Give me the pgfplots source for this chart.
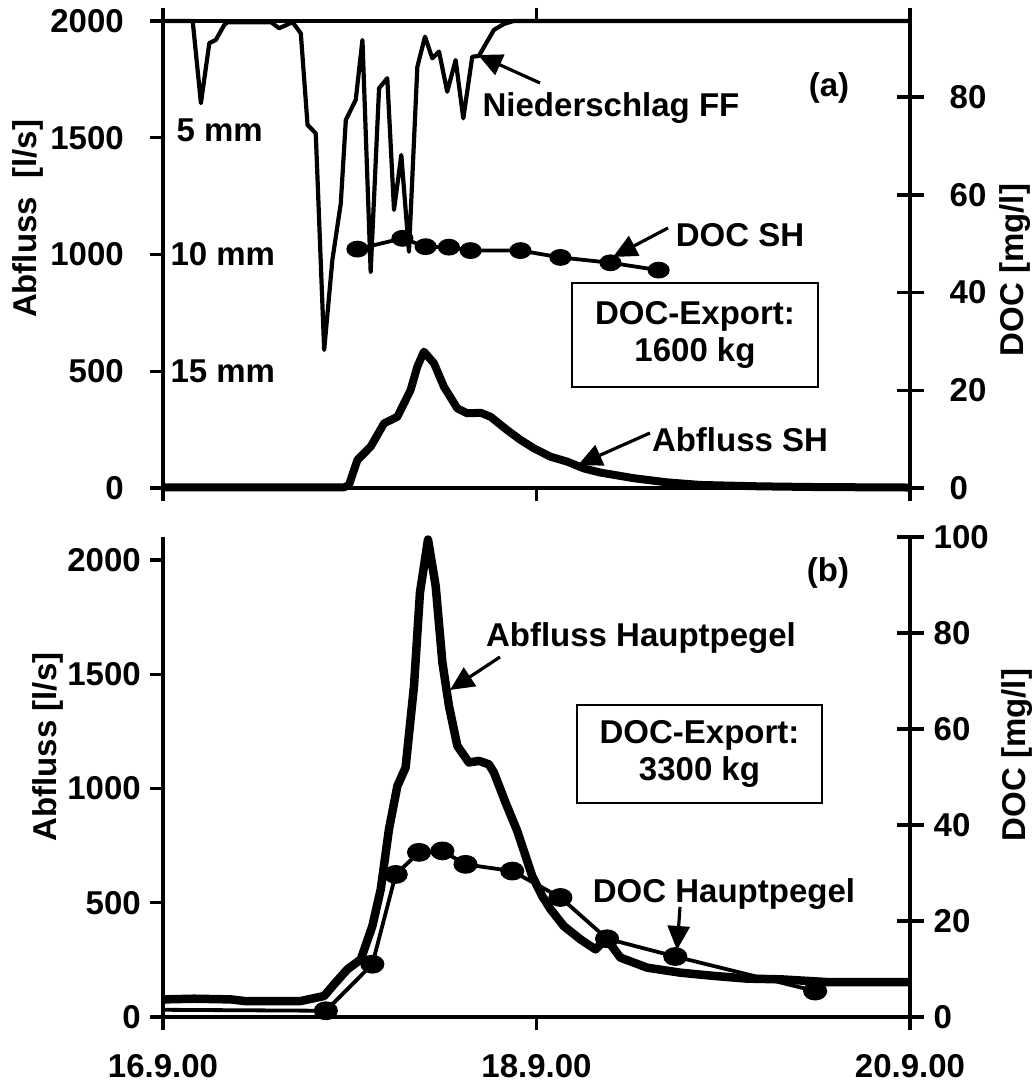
\documentclass[border=0pt]{standalone}
\usepackage{fontspec}
\setmainfont{Liberation Sans}
\usepackage{pgfplots}
\pgfplotsset{compat=1.18}
\usetikzlibrary{arrows.meta}
\newcommand\F{\fontsize{33}{37}\selectfont\bfseries}

\pgfplotstableread{
x y
0 2000
0.159 2000
0.203 1648
0.248 1905
0.283 1919
0.328 1983
0.346 1995
0.578 1995
0.622 1969
0.694 1995
0.738 1947
0.774 1555
0.818 1519
0.863 591
0.907 977
0.952 1219
0.979 1576
1.032 1662
1.068 1919
1.112 926
1.157 1712
1.201 1755
1.237 1191
1.276 1426
1.317 1012
1.362 1804
1.403 1933
1.442 1840
1.478 1869
1.522 1697
1.567 1833
1.608 1583
1.656 1847
1.691 1850
1.772 1962
1.825 1987
1.877 2000
4 2000
}\niederschlag

\pgfplotstableread{
x y
0 3
0.97 3
0.996 13
1.041 120
1.112 177
1.184 277
1.255 305
1.326 420
1.362 520
1.397 584
1.451 534
1.504 434
1.576 341
1.629 320
1.701 322
1.754 305
1.843 248
1.914 206
1.986 170
2.075 134
2.164 113
2.253 84
2.342 66
2.52 42
2.70 24
2.877 13
3.2 7
3.5 4
4 2
}\abflussSH

\pgfplotstableread{
x y
1.041 48.9
1.282 51.1
1.406 49.4
1.531 49.3
1.647 48.6
1.914 48.6
2.128 47.2
2.396 46.1
2.654 44.6
}\docSH

\pgfplotstableread{
x y
0 77
0.167 80
0.364 77
0.435 70
0.738 70
0.863 92
0.916 143
0.988 209
1.059 252
1.121 398
1.166 559
1.210 822
1.255 1011
1.299 1092
1.344 1449
1.376 1858
1.419 2090
1.460 1887
1.496 1552
1.531 1362
1.576 1187
1.638 1114
1.692 1121
1.745 1106
1.772 1070
1.834 939
1.897 814
1.977 617
2.030 530
2.075 472
2.146 398
2.235 340
2.316 296
2.374 343
2.449 260
2.592 216
2.770 194
2.948 180
3.127 168
3.305 165
3.554 153
4.0 153
}\abflussHP

\pgfplotstableread{
x y
0 1.5
0.872 1.3
1.121 11.0
1.246 29.7
1.371 34.3
1.496 34.6
1.620 31.8
1.870 30.4
2.128 24.9
2.378 16.3
2.743 12.6
3.492 5.4
}\docHP

\pgfplotsset{
  base/.style={scale only axis, width=747pt, xmin=0, xmax=4, clip=false,
    /pgf/number format/assume math mode=true,
    /pgf/number format/set thousands separator={},
    tick label style={font=\F},
    axis line style={line width=3.4pt,-},
    every tick/.style={line width=3.4pt, black},
  },
}

\begin{document}
\begin{tikzpicture}
\useasboundingbox (0,0) rectangle (1034pt,1083pt);

% ---------------- panel (a) ----------------
\begin{axis}[base, at={(163pt,595pt)}, anchor=south west, height=467pt,
  ymin=0, ymax=2000, ytick={0,500,1000,1500,2000},
  xtick={0,2,4}, xticklabels={}, xtick pos=both, ytick pos=left,
  tick align=outside, major tick length=13pt,
  yticklabel style={inner sep=0pt, xshift=-26pt}]
\addplot[black, line width=4.2pt, line join=round] table {\niederschlag};
\addplot[black, line width=8pt, line join=round] table {\abflussSH};
\end{axis}
\begin{axis}[base, at={(163pt,595pt)}, anchor=south west, height=467pt,
  ymin=0, ymax=95.6, ytick={0,20,40,60,80},
  axis y line*=right, axis x line=none,
  tick align=center, major tick length=27pt,
  yticklabel style={inner sep=0pt, xshift=26pt}]
\addplot[black, line width=3.8pt, mark=*, mark size=6.5pt, mark options={xscale=1.4}] table {\docSH};
\end{axis}

% ---------------- panel (b) ----------------
\begin{axis}[base, at={(163pt,66pt)}, anchor=south west, height=480pt,
  ymin=0, ymax=2101, ytick={0,500,1000,1500,2000},
  axis x line*=bottom, axis y line*=left,
  xtick={0,2,4}, xticklabels={16.9.00,18.9.00,20.9.00},
  tick align=outside, major tick length=13pt,
  yticklabel style={inner sep=0pt, xshift=-9pt},
  xticklabel style={yshift=-21pt}]
\addplot[black, line width=8.5pt, line join=round] table {\abflussHP};
\end{axis}
\begin{axis}[base, at={(163pt,66pt)}, anchor=south west, height=480pt,
  ymin=0, ymax=100, ytick={0,20,40,60,80,100},
  axis y line*=right, axis x line=none,
  tick align=center, major tick length=27pt,
  yticklabel style={inner sep=0pt, xshift=10pt}]
\addplot[black, line width=3.8pt, mark=*, mark size=7.5pt, mark options={xscale=1.35},
  mark indices={2,3,4,5,6,7,8,9,10,11,12}] table {\docHP};
\end{axis}

% ---------------- annotations ----------------
\tikzset{arr/.style={line width=3.2pt, -{Triangle[length=24pt,width=22pt]}}}
\node[font=\F, anchor=base] at (611pt,966pt) {Niederschlag FF};
\draw[arr] (540pt,1000pt) -- (478pt,1028pt);
\node[font=\F, anchor=base] at (829pt,986pt) {(a)};
\node[font=\F, anchor=base west] at (173pt,941pt) {5 mm};
\node[font=\F, anchor=base west] at (167pt,817pt) {10 mm};
\node[font=\F, anchor=base west] at (167pt,700pt) {15 mm};
\node[font=\F, anchor=base] at (740pt,836pt) {DOC SH};
\draw[arr] (668pt,855pt) -- (613pt,826pt);
\node[font=\F, anchor=base] at (740pt,631pt) {Abfluss SH};
\draw[arr] (650pt,650pt) -- (578pt,618pt);
\node[draw, line width=2.8pt, minimum width=246pt, minimum height=104pt, align=center, inner sep=0pt, font=\F] at (695pt,748pt) {DOC-Export:\\1600 kg};

\node[font=\F, anchor=base] at (828pt,501pt) {(b)};
\node[font=\F, anchor=base] at (641pt,436pt) {Abfluss Hauptpegel};
\draw[arr] (500pt,426pt) -- (450pt,393pt);
\node[draw, line width=2.8pt, minimum width=245pt, minimum height=98pt, align=center, inner sep=0pt, font=\F] at (699.5pt,329pt) {DOC-Export:\\3300 kg};
\node[font=\F, anchor=base] at (724pt,180pt) {DOC Hauptpegel};
\draw[arr] (680pt,176pt) -- (677pt,133pt);

\node[font=\F, rotate=90] at (28pt,864pt) {Abfluss\ \ [l/s]};
\node[font=\F, rotate=90] at (48pt,336pt) {Abfluss [l/s]};
\node[font=\F, rotate=90] at (1015pt,813pt) {DOC [mg/l]};
\node[font=\F, rotate=90] at (1017pt,328pt) {DOC [mg/l]};
\end{tikzpicture}
\end{document}
